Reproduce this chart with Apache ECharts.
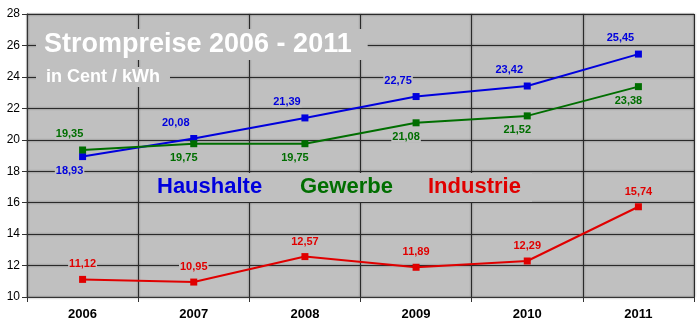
<!DOCTYPE html>
<html><head><meta charset="utf-8">
<script src="https://cdn.jsdelivr.net/npm/echarts@6/dist/echarts.min.js"></script>
<style>html,body{margin:0;padding:0;background:#fff}#c{width:700px;height:332px}</style>
</head><body><div id="c"></div>
<script>
var years = ['2006','2007','2008','2009','2010','2011'];
var haushalte = [18.93, 20.08, 21.39, 22.75, 23.42, 25.45];
var gewerbe = [19.35, 19.75, 19.75, 21.08, 21.52, 23.38];
var industrie = [11.12, 10.95, 12.57, 11.89, 12.29, 15.74];
var yTicks = [10, 28, 2];

var FF = '"Liberation Sans", Arial, sans-serif';
var GRID_BG = '#c0c0c0';
var BLUE = '#0000dd', GREEN = '#006e00', RED = '#e00000';

function fmt(p){ return p.value.toFixed(2).replace('.', ','); }
function lbl(color, pos, off){
  return {show:true, position:pos, offset:off, formatter:fmt, color:color,
    fontFamily:FF, fontSize:11, fontWeight:'bold', backgroundColor:GRID_BG, padding:[0,1], distance:4};
}
function items(vals, overrides){
  return vals.map(function(v,i){ var o={value:v}; if(overrides && overrides[i]) o.label=overrides[i]; return o; });
}
function ser(name, vals, color, pos, off, overrides){
  return {name:name, type:'line', data:items(vals, overrides), symbol:'rect', symbolSize:7,
    lineStyle:{color:color, width:2}, itemStyle:{color:color}, label:lbl(color,pos,off), z:5, animation:false};
}
var gridLine = {color:'#2a2a2a', width:1, shadowColor:'rgba(0,0,0,0.55)', shadowBlur:2};

var chart = echarts.init(document.getElementById('c'), null, {renderer:'canvas'});
chart.setOption({
  animation:false,
  grid:{left:27, top:14, right:6, bottom:35, show:true, backgroundColor:GRID_BG, borderColor:'#a0a0a0', borderWidth:1},
  title:[
    {text:'Strompreise 2006 - 2011', left:36, top:29, padding:[2,16,2,8], backgroundColor:GRID_BG,
     textStyle:{color:'#fff', fontFamily:FF, fontSize:27, fontWeight:'bold'}},
    {text:'in Cent / kWh', left:36, top:67, padding:[1,10,1,10], backgroundColor:GRID_BG,
     textStyle:{color:'#fff', fontFamily:FF, fontSize:18, fontWeight:'bold'}}
  ],
  graphic:[
    {type:'rect', shape:{x:150, y:173, width:382, height:29}, style:{fill:GRID_BG}, z:3},
    {type:'text', x:157, y:187, style:{text:'Haushalte', fill:BLUE, font:'bold 22px '+FF, textVerticalAlign:'middle'}, z:4},
    {type:'text', x:300, y:187, style:{text:'Gewerbe', fill:GREEN, font:'bold 22px '+FF, textVerticalAlign:'middle'}, z:4},
    {type:'text', x:428, y:187, style:{text:'Industrie', fill:RED, font:'bold 22px '+FF, textVerticalAlign:'middle'}, z:4}
  ],
  xAxis:{type:'category', data:years, boundaryGap:true,
    axisLine:{show:true, lineStyle:{color:'#333'}},
    axisTick:{show:true, length:5, alignWithLabel:false, lineStyle:{color:'#333'}},
    axisLabel:{color:'#000', fontFamily:FF, fontSize:13, fontWeight:'bold', margin:11},
    splitLine:{show:true, lineStyle:gridLine}
  },
  yAxis:{type:'value', min:yTicks[0], max:yTicks[1], interval:yTicks[2],
    axisLine:{show:true, lineStyle:{color:'#333'}},
    axisTick:{show:true, length:5, lineStyle:{color:'#333'}},
    axisLabel:{color:'#000', fontFamily:FF, fontSize:12, margin:7},
    splitLine:{show:true, lineStyle:gridLine}
  },
  series:[
    ser('Haushalte', haushalte, BLUE, 'top', [-18,-3], {0:{position:'bottom', offset:[-13,1]}}),
    ser('Gewerbe', gewerbe, GREEN, 'bottom', [-10,1], {0:{position:'top', offset:[-13,-3]}}),
    ser('Industrie', industrie, RED, 'top', [0,-2])
  ]
});
</script></body></html>
